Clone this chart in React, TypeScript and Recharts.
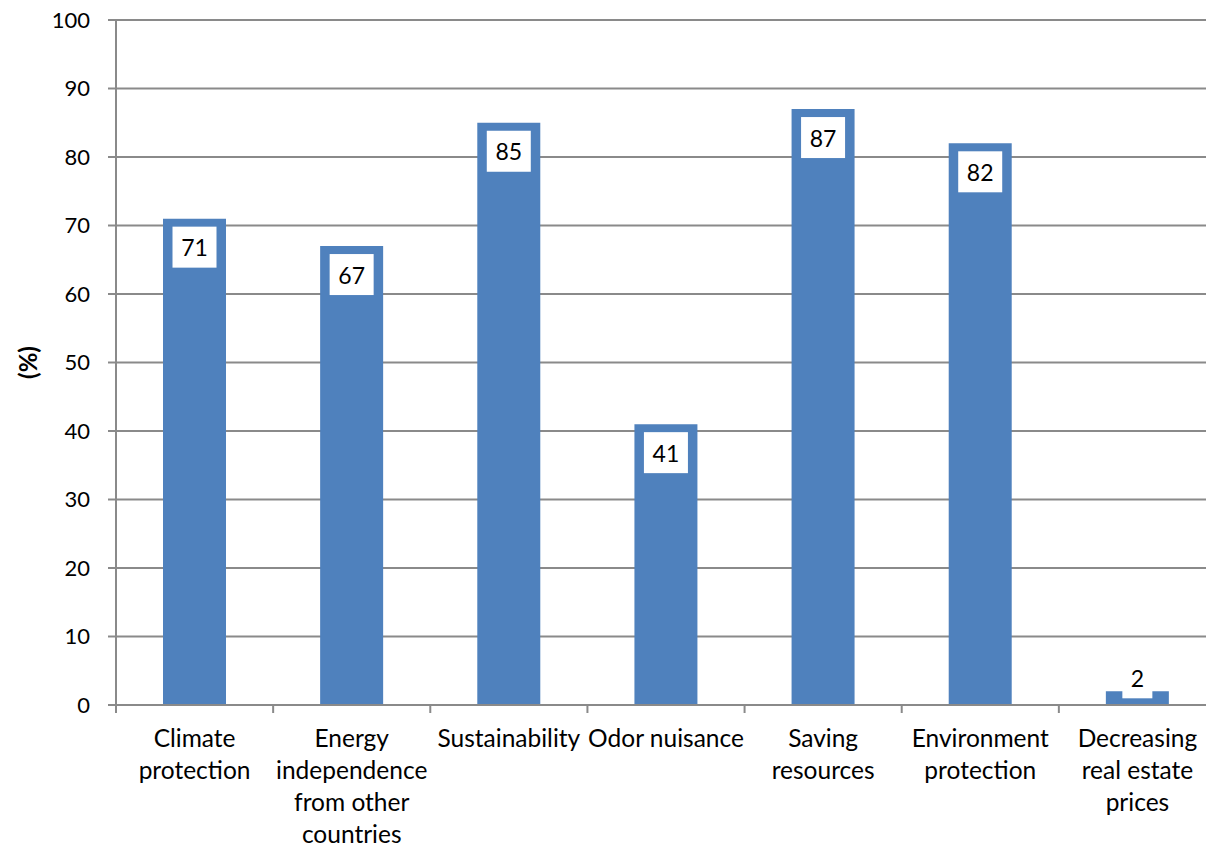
import React from "react";
import { BarChart, Bar, XAxis, YAxis, CartesianGrid, LabelList } from "recharts";

// reasons given, share of respondents in %
const categories = [
  "Climate protection",
  "Energy independence from other countries",
  "Sustainability",
  "Odor nuisance",
  "Saving resources",
  "Environment protection",
  "Decreasing real estate prices",
];
const categoryLines = [
  ["Climate", "protection"],
  ["Energy", "independence", "from other", "countries"],
  ["Sustainability"],
  ["Odor nuisance"],
  ["Saving", "resources"],
  ["Environment", "protection"],
  ["Decreasing", "real estate", "prices"],
];
const shares = [71, 67, 85, 41, 87, 82, 2];
const yTicks = [0, 10, 20, 30, 40, 50, 60, 70, 80, 90, 100];

const data = categories.map((name, i) => ({ name, lines: categoryLines[i], share: shares[i] }));

const FONT = "Lato, 'Open Sans', sans-serif";
const GRID = "#8a8a8a";
const BAND = 1100 / categories.length;

function CategoryTick(props: any) {
  const { x, y, index } = props;
  const lines: string[] = categoryLines[index] || [];
  const left = x - BAND / 2;
  return (
    <g>
      <line x1={left} y1={y - 8} x2={left} y2={y} stroke={GRID} strokeWidth={2} />
      {index === categories.length - 1 && (
        <line x1={left + BAND} y1={y - 8} x2={left + BAND} y2={y} stroke={GRID} strokeWidth={2} />
      )}
      {lines.map((l, k) => (
        <text
          key={k}
          x={x}
          y={y + 24 + k * 32}
          textAnchor="middle"
          dominantBaseline="central"
          fontFamily={FONT}
          fontSize={24.5}
          fill="#000"
        >
          {l}
        </text>
      ))}
    </g>
  );
}

function ValueBox(props: any) {
  const { x, y, width, height, value } = props;
  const txt = String(value);
  const w = 16 + 14 * txt.length;
  const h = 41;
  const cx = x + width / 2;
  // short bars get the box lifted above the bar top
  const top = height < h + 16 ? y + 7 - h : y + 8;
  return (
    <g>
      <rect x={cx - w / 2} y={top} width={w} height={h} fill="#fff" />
      <text
        x={cx}
        y={top + h / 2}
        textAnchor="middle"
        dominantBaseline="central"
        fontFamily={FONT}
        fontSize={23}
        fill="#000"
      >
        {txt}
      </text>
    </g>
  );
}

export default function App() {
  return (
    <div
      style={{
        position: "fixed",
        left: 0,
        top: 0,
        width: 1206,
        height: 847,
        overflow: "hidden",
        background: "#fff",
      }}
    >
      <BarChart
        width={1230}
        height={847}
        data={data}
        margin={{ top: 20, right: 14, bottom: 0, left: 0 }}
        barCategoryGap={0}
      >
        <CartesianGrid vertical={false} stroke={GRID} strokeWidth={2} />
        <XAxis
          dataKey="name"
          interval={0}
          height={142}
          axisLine={{ stroke: GRID, strokeWidth: 2 }}
          tickLine={false}
          tick={<CategoryTick />}
        />
        <YAxis
          width={116}
          domain={[0, 100]}
          ticks={yTicks}
          interval={0}
          axisLine={{ stroke: GRID, strokeWidth: 2 }}
          tickLine={{ stroke: GRID, strokeWidth: 2 }}
          tickSize={8}
          tickMargin={18}
          tick={{ fill: "#000", fontSize: 22, fontFamily: FONT }}
          label={{
            value: "(%)",
            angle: -90,
            position: "insideLeft",
            offset: 28,
            style: { fontFamily: FONT, fontSize: 24, fontWeight: "bold", fill: "#000", textAnchor: "middle" },
          }}
        />
        <Bar dataKey="share" fill="#4F81BD" barSize={63} isAnimationActive={false}>
          <LabelList dataKey="share" content={<ValueBox />} />
        </Bar>
      </BarChart>
    </div>
  );
}
